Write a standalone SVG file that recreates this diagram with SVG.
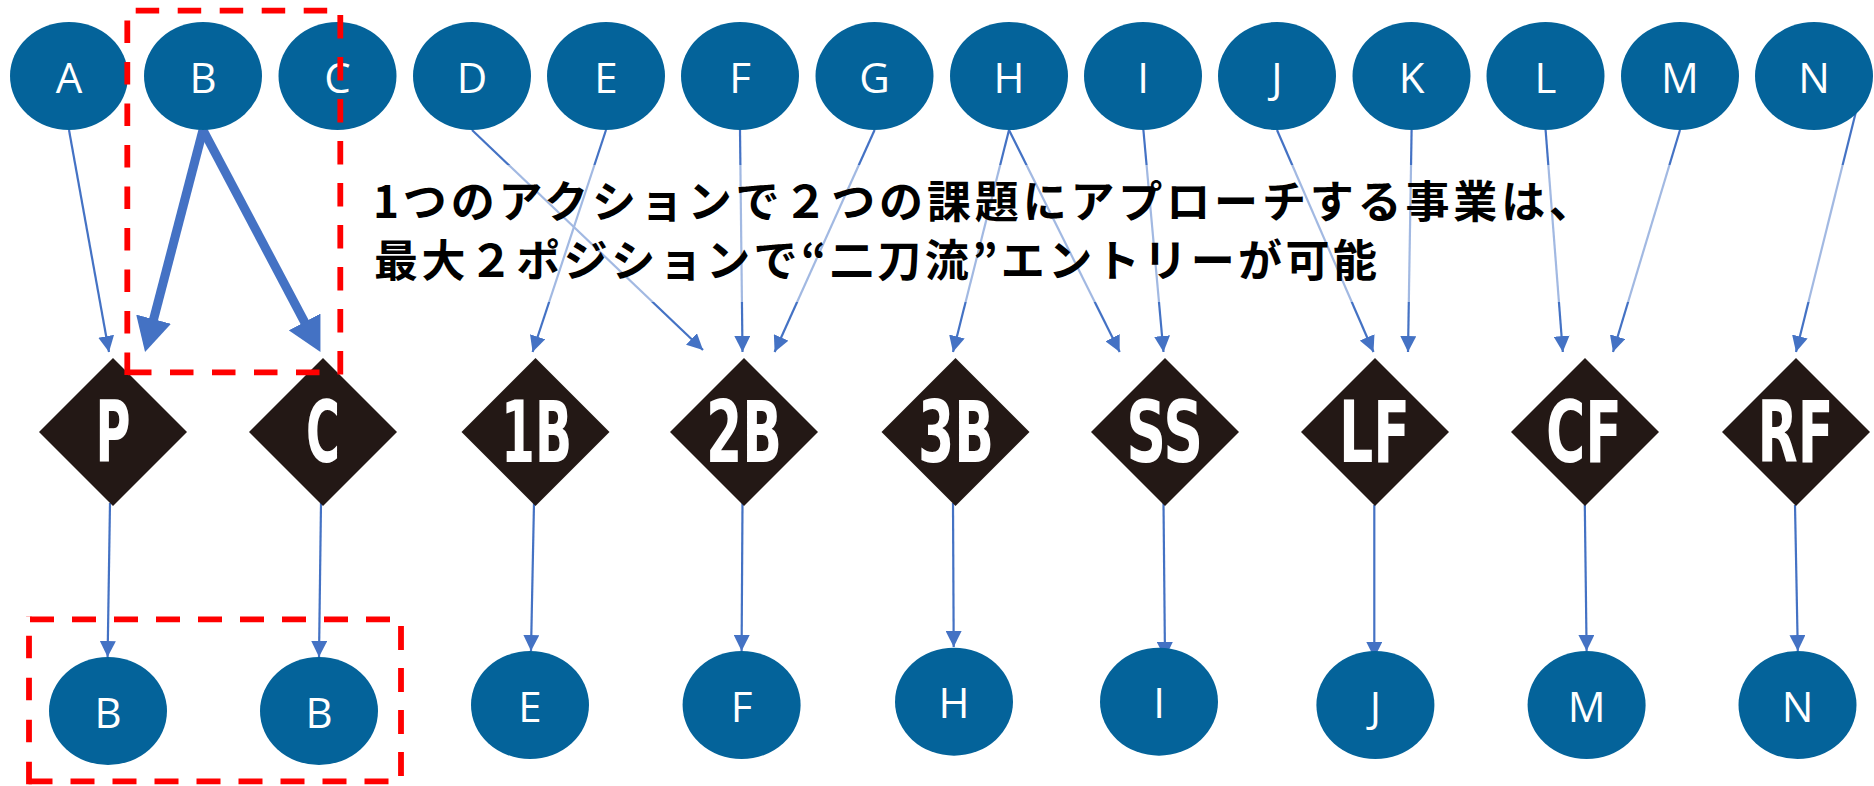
<svg xmlns="http://www.w3.org/2000/svg" width="1874" height="786" viewBox="0 0 1874 786">
<style>
.bg{fill:#ffffff}
.el{fill:#04639A}
.lbl{font-family:"Open Sans","Noto Sans","DejaVu Sans",sans-serif;font-size:42px;fill:#ffffff;text-anchor:middle}
.dia{fill:#231815}
.pos{font-family:"Liberation Sans Narrow","DejaVu Sans Condensed","Liberation Sans",sans-serif;font-weight:bold;font-size:85px;fill:#ffffff;text-anchor:middle}
.e{fill:none;stroke:#4472C4;stroke-width:2.2}
.t{fill:none;stroke:#4472C4;stroke-width:9}
.rd{fill:none;stroke:#FF0000;stroke-width:5.8;stroke-dasharray:23.5 18.5}
.rd2{fill:none;stroke:#FF0000;stroke-width:5.8;stroke-dasharray:24 18}
.jp{font-family:"Noto Sans CJK JP","Noto Sans CJK SC",sans-serif;font-weight:bold;font-size:44px;fill:#000000}
</style>
<defs>
<marker id="ah" markerUnits="userSpaceOnUse" markerWidth="16" markerHeight="16" viewBox="0 0 16 16" refX="16" refY="8" orient="auto">
<path d="M0,0 L16,8 L0,16 z" fill="#4472C4"/>
</marker>
<marker id="ahb" markerUnits="userSpaceOnUse" markerWidth="34" markerHeight="36" viewBox="0 0 34 36" refX="14" refY="18" orient="auto">
<path d="M0,0 L34,18 L0,36 z" fill="#4472C4"/>
</marker>
</defs>
<rect class="bg" x="0" y="0" width="1874" height="786"/>

<g id="connectors">
<path class="e" d="M69,130 L109,352" marker-end="url(#ah)"/>
<path class="t" d="M203,130 L150.1,332.7" marker-end="url(#ahb)"/>
<path class="t" d="M203,130 L311.1,334.3" marker-end="url(#ahb)"/>
<path class="e" d="M472,130 L703,350" marker-end="url(#ah)"/>
<path class="e" d="M606,130 L532.6,352" marker-end="url(#ah)"/>
<path class="e" d="M740,130 L742.5,352" marker-end="url(#ah)"/>
<path class="e" d="M874.6,130 L774.6,352" marker-end="url(#ah)"/>
<path class="e" d="M1009,130 L953,352" marker-end="url(#ah)"/>
<path class="e" d="M1009,130 L1119.7,352" marker-end="url(#ah)"/>
<path class="e" d="M1143.4,130 L1163.5,352" marker-end="url(#ah)"/>
<path class="e" d="M1277,130 L1373.5,352" marker-end="url(#ah)"/>
<path class="e" d="M1411.6,130 L1408,352" marker-end="url(#ah)"/>
<path class="e" d="M1545.6,130 L1562.8,352" marker-end="url(#ah)"/>
<path class="e" d="M1680,130 L1613,352" marker-end="url(#ah)"/>
<path class="e" d="M1855.6,113 L1796,352" marker-end="url(#ah)"/>
<path class="e" d="M110,503 L107.6,657" marker-end="url(#ah)"/>
<path class="e" d="M321,503 L319,657" marker-end="url(#ah)"/>
<path class="e" d="M534,503 L531,651" marker-end="url(#ah)"/>
<path class="e" d="M742.5,503 L741.6,651" marker-end="url(#ah)"/>
<path class="e" d="M953,503 L953.7,647" marker-end="url(#ah)"/>
<path class="e" d="M1163.5,503 L1165,658" marker-end="url(#ah)"/>
<path class="e" d="M1374.3,505 L1374.3,658" marker-end="url(#ah)"/>
<path class="e" d="M1584.8,505 L1586.6,651" marker-end="url(#ah)"/>
<path class="e" d="M1795,505 L1797.8,651" marker-end="url(#ah)"/>
</g>

<g id="caption">
<rect x="370" y="165" width="1504" height="137" fill="#ffffff" fill-opacity="0.5"/>
<text class="jp" x="373" y="218" textLength="1220" lengthAdjust="spacing">1つのアクションで２つの課題にアプローチする事業は、</text>
<text class="jp" x="374" y="276.5" textLength="1003" lengthAdjust="spacing">最大２ポジションで“二刀流”エントリーが可能</text>
</g>

<g id="top-nodes">
<g id="nA"><ellipse class="el" cx="69" cy="76" rx="59" ry="54"/><text class="lbl" x="69" y="93">A</text></g>
<g id="nB"><ellipse class="el" cx="203" cy="76" rx="59" ry="54"/><text class="lbl" x="203" y="93">B</text></g>
<g id="nC"><ellipse class="el" cx="337.5" cy="76" rx="59" ry="54"/><text class="lbl" x="337.5" y="93">C</text></g>
<g id="nD"><ellipse class="el" cx="472" cy="76" rx="59" ry="54"/><text class="lbl" x="472" y="93">D</text></g>
<g id="nE"><ellipse class="el" cx="606" cy="76" rx="59" ry="54"/><text class="lbl" x="606" y="93">E</text></g>
<g id="nF"><ellipse class="el" cx="740" cy="76" rx="59" ry="54"/><text class="lbl" x="740" y="93">F</text></g>
<g id="nG"><ellipse class="el" cx="874.5" cy="76" rx="59" ry="54"/><text class="lbl" x="874.5" y="93">G</text></g>
<g id="nH"><ellipse class="el" cx="1009" cy="76" rx="59" ry="54"/><text class="lbl" x="1009" y="93">H</text></g>
<g id="nI"><ellipse class="el" cx="1143" cy="76" rx="59" ry="54"/><text class="lbl" x="1143" y="93">I</text></g>
<g id="nJ"><ellipse class="el" cx="1277" cy="76" rx="59" ry="54"/><text class="lbl" x="1277" y="93">J</text></g>
<g id="nK"><ellipse class="el" cx="1411.5" cy="76" rx="59" ry="54"/><text class="lbl" x="1411.5" y="93">K</text></g>
<g id="nL"><ellipse class="el" cx="1545.5" cy="76" rx="59" ry="54"/><text class="lbl" x="1545.5" y="93">L</text></g>
<g id="nM"><ellipse class="el" cx="1680" cy="76" rx="59" ry="54"/><text class="lbl" x="1680" y="93">M</text></g>
<g id="nN"><ellipse class="el" cx="1814" cy="76" rx="59" ry="54"/><text class="lbl" x="1814" y="93">N</text></g>
</g>

<g id="positions">
<g id="pP"><path class="dia" d="M113,358 L187,432 L113,506 L39,432 z"/><text class="pos" x="113" y="462" textLength="35" lengthAdjust="spacingAndGlyphs">P</text></g>
<g id="pC"><path class="dia" d="M323,358 L397,432 L323,506 L249,432 z"/><text class="pos" x="323" y="462" textLength="34" lengthAdjust="spacingAndGlyphs">C</text></g>
<g id="p1B"><path class="dia" d="M535.5,358 L609.5,432 L535.5,506 L461.5,432 z"/><text class="pos" x="536.5" y="462" textLength="71" lengthAdjust="spacingAndGlyphs">1B</text></g>
<g id="p2B"><path class="dia" d="M744,358 L818,432 L744,506 L670,432 z"/><text class="pos" x="744" y="462" textLength="76" lengthAdjust="spacingAndGlyphs">2B</text></g>
<g id="p3B"><path class="dia" d="M955.5,358 L1029.5,432 L955.5,506 L881.5,432 z"/><text class="pos" x="956" y="462" textLength="76" lengthAdjust="spacingAndGlyphs">3B</text></g>
<g id="pSS"><path class="dia" d="M1165,358 L1239,432 L1165,506 L1091,432 z"/><text class="pos" x="1164.7" y="462" textLength="77" lengthAdjust="spacingAndGlyphs">SS</text></g>
<g id="pLF"><path class="dia" d="M1375,358 L1449,432 L1375,506 L1301,432 z"/><text class="pos" x="1374.5" y="462" textLength="71" lengthAdjust="spacingAndGlyphs">LF</text></g>
<g id="pCF"><path class="dia" d="M1585,358 L1659,432 L1585,506 L1511,432 z"/><text class="pos" x="1584" y="462" textLength="76" lengthAdjust="spacingAndGlyphs">CF</text></g>
<g id="pRF"><path class="dia" d="M1796,358 L1870,432 L1796,506 L1722,432 z"/><text class="pos" x="1795.6" y="462" textLength="76" lengthAdjust="spacingAndGlyphs">RF</text></g>
</g>

<g id="bottom-nodes">
<g id="bB1"><ellipse class="el" cx="108" cy="711" rx="59" ry="54"/><text class="lbl" x="108" y="727.5">B</text></g>
<g id="bB2"><ellipse class="el" cx="319" cy="711" rx="59" ry="54"/><text class="lbl" x="319" y="727.5">B</text></g>
<g id="bE"><ellipse class="el" cx="530" cy="705" rx="59" ry="54"/><text class="lbl" x="530" y="721.5">E</text></g>
<g id="bF"><ellipse class="el" cx="741.6" cy="705" rx="59" ry="54"/><text class="lbl" x="741.6" y="721.5">F</text></g>
<g id="bH"><ellipse class="el" cx="954" cy="701.7" rx="59" ry="54"/><text class="lbl" x="954" y="718">H</text></g>
<g id="bI"><ellipse class="el" cx="1159" cy="701.7" rx="59" ry="54"/><text class="lbl" x="1159" y="718">I</text></g>
<g id="bJ"><ellipse class="el" cx="1375.4" cy="705" rx="59" ry="54"/><text class="lbl" x="1375.4" y="721.5">J</text></g>
<g id="bM"><ellipse class="el" cx="1586.6" cy="705" rx="59" ry="54"/><text class="lbl" x="1586.6" y="721.5">M</text></g>
<g id="bN"><ellipse class="el" cx="1797.5" cy="705" rx="59" ry="54"/><text class="lbl" x="1797.5" y="721.5">N</text></g>
</g>

<g id="highlight-boxes">
<line class="rd" x1="135.7" y1="10.7" x2="340.3" y2="10.7"/>
<line class="rd" x1="340.3" y1="15" x2="340.3" y2="375"/>
<line class="rd" x1="319.5" y1="372.3" x2="124.6" y2="372.3"/>
<line class="rd" x1="127.3" y1="375" x2="127.3" y2="10" style="stroke-dasharray:22.5 19"/>
<line class="rd2" x1="30" y1="619.3" x2="404" y2="619.3"/>
<line class="rd2" x1="401" y1="626" x2="401" y2="784"/>
<line class="rd2" x1="388.5" y1="781.3" x2="26" y2="781.3"/>
<line class="rd2" x1="29" y1="784.3" x2="29" y2="616" style="stroke-dasharray:22.5 19.5"/>
</g>
</svg>
